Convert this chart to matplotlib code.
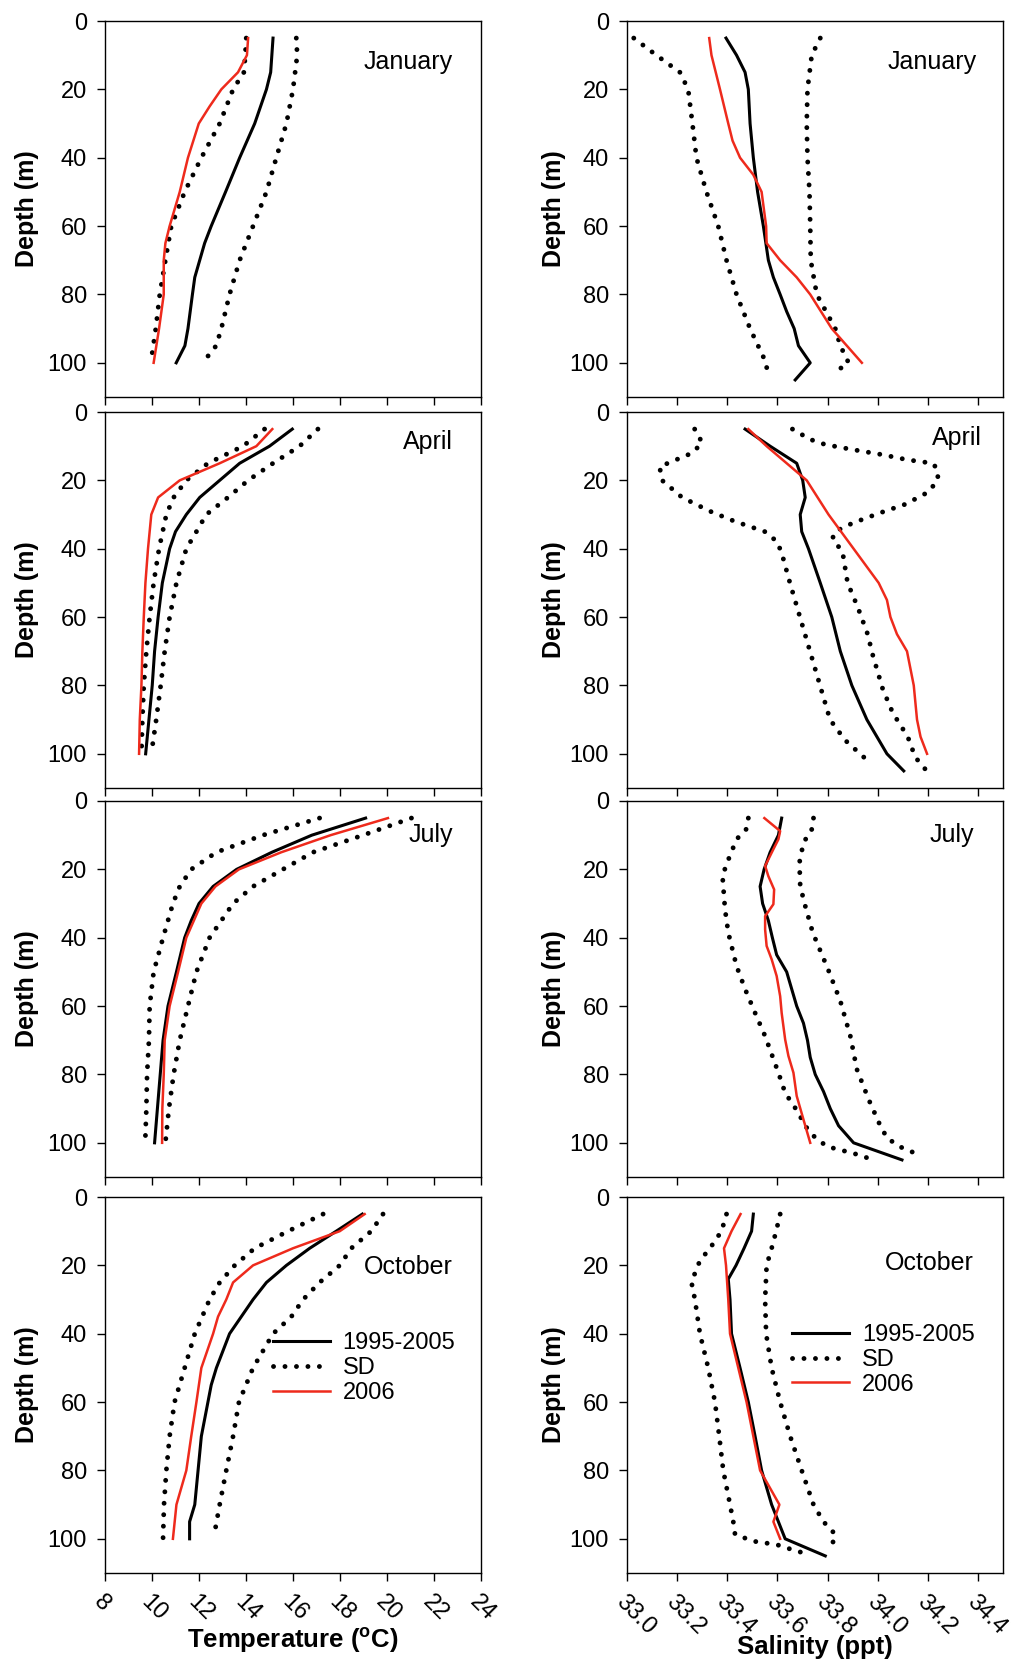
import matplotlib
matplotlib.use("Agg")
import matplotlib.pyplot as plt

plt.rcParams['font.family'] = ['Liberation Sans', 'DejaVu Sans']
plt.rcParams['mathtext.fontset'] = 'custom'
plt.rcParams['mathtext.rm'] = 'Liberation Sans'
plt.rcParams['mathtext.bf'] = 'Liberation Sans:bold'

MONTHS = ["January", "April", "July", "October"]
SERIES = ["1995-2005", "SD", "2006"]
TEMP_TICKS = [8, 10, 12, 14, 16, 18, 20, 22, 24]
SAL_TICKS = [33.0, 33.2, 33.4, 33.6, 33.8, 34.0, 34.2, 34.4]
DEPTH_TICKS = [0, 20, 40, 60, 80, 100]

# ---- temperature, January
T_JAN_MEAN_D = [5, 10, 15, 20, 30, 40, 50, 60, 65, 70, 75, 80, 90, 95, 100]
T_JAN_MEAN = [15.15, 15.10, 15.05, 14.87, 14.37, 13.73, 13.13, 12.52, 12.24, 12.03, 11.82, 11.72, 11.53, 11.40, 11.03]
T_JAN_2006_D = [5, 10, 15, 20, 25, 30, 40, 50, 60, 65, 70, 80, 90, 100]
T_JAN_2006 = [14.09, 14.04, 13.66, 12.95, 12.45, 11.99, 11.53, 11.18, 10.75, 10.57, 10.50, 10.50, 10.30, 10.07]
T_JAN_LO_D = [5, 10, 15, 20, 30, 40, 50, 60, 70, 80, 90, 99]
T_JAN_LO = [14.01, 13.97, 13.91, 13.45, 12.88, 12.10, 11.39, 10.82, 10.57, 10.33, 10.16, 9.97]
T_JAN_HI_D = [5, 10, 20, 30, 40, 50, 60, 70, 80, 90, 95, 99]
T_JAN_HI = [16.14, 16.18, 16.00, 15.72, 15.29, 14.87, 14.30, 13.73, 13.30, 12.95, 12.73, 12.27]

# ---- temperature, April
T_APR_MEAN_D = [5, 10, 15, 20, 25, 30, 35, 40, 50, 60, 70, 80, 90, 100]
T_APR_MEAN = [15.97, 15.00, 13.73, 12.88, 12.03, 11.46, 11.00, 10.75, 10.44, 10.26, 10.11, 10.01, 9.87, 9.73]
T_APR_2006_D = [5, 10, 15, 20, 25, 30, 40, 50, 60, 70, 80, 90, 100]
T_APR_2006 = [15.12, 14.44, 12.88, 11.18, 10.26, 9.97, 9.83, 9.72, 9.65, 9.59, 9.55, 9.48, 9.45]
T_APR_LO_D = [5, 10, 15, 20, 25, 30, 40, 50, 60, 70, 80, 90, 100]
T_APR_LO = [14.79, 13.87, 12.38, 11.46, 10.92, 10.61, 10.30, 10.07, 9.90, 9.76, 9.65, 9.59, 9.55]
T_APR_HI_D = [5, 10, 15, 20, 25, 30, 35, 40, 50, 60, 70, 80, 90, 100]
T_APR_HI = [17.06, 16.28, 15.15, 14.09, 13.23, 12.31, 11.89, 11.46, 11.04, 10.75, 10.54, 10.37, 10.18, 9.97]

# ---- temperature, July
T_JUL_MEAN_D = [5, 10, 15, 20, 25, 30, 35, 40, 50, 60, 70, 80, 90, 100]
T_JUL_MEAN = [19.09, 16.80, 15.10, 13.60, 12.60, 12.00, 11.67, 11.39, 11.04, 10.68, 10.47, 10.35, 10.23, 10.11]
T_JUL_2006_D = [5, 10, 15, 20, 25, 30, 40, 50, 60, 70, 80, 90, 100]
T_JUL_2006 = [20.04, 17.60, 15.50, 13.70, 12.70, 12.10, 11.46, 11.11, 10.75, 10.54, 10.50, 10.44, 10.43]
T_JUL_LO_D = [5, 10, 15, 20, 25, 30, 40, 50, 60, 70, 80, 90, 98]
T_JUL_LO = [17.13, 14.72, 12.74, 11.67, 11.18, 10.89, 10.47, 10.07, 9.90, 9.87, 9.79, 9.76, 9.72]
T_JUL_HI_D = [5, 10, 15, 20, 25, 30, 40, 50, 60, 70, 80, 90, 100]
T_JUL_HI = [21.04, 18.98, 16.85, 15.57, 14.30, 13.45, 12.45, 11.89, 11.53, 11.18, 10.92, 10.72, 10.57]

# ---- temperature, October
T_OCT_MEAN_D = [5, 10, 15, 20, 25, 30, 35, 40, 50, 55, 60, 70, 80, 90, 95, 100]
T_OCT_MEAN = [18.95, 17.84, 16.71, 15.72, 14.87, 14.30, 13.80, 13.30, 12.74, 12.52, 12.38, 12.10, 11.96, 11.82, 11.60, 11.60]
T_OCT_2006_D = [5, 10, 15, 20, 25, 30, 35, 40, 50, 60, 70, 80, 90, 100]
T_OCT_2006 = [19.05, 17.99, 16.00, 14.30, 13.45, 13.16, 12.81, 12.60, 12.10, 11.89, 11.67, 11.46, 11.04, 10.89]
T_OCT_LO_D = [5, 10, 15, 20, 25, 30, 40, 50, 60, 70, 80, 90, 100]
T_OCT_LO = [17.28, 15.79, 14.37, 13.52, 12.88, 12.45, 11.82, 11.39, 10.96, 10.75, 10.61, 10.51, 10.47]
T_OCT_HI_D = [5, 10, 15, 20, 25, 30, 35, 40, 50, 60, 70, 80, 90, 98]
T_OCT_HI = [19.83, 19.33, 18.48, 17.99, 17.13, 16.43, 15.93, 15.15, 14.30, 13.70, 13.45, 13.16, 12.88, 12.67]

# ---- salinity, January
S_JAN_MEAN_D = [5, 10, 15, 20, 30, 40, 50, 60, 70, 75, 80, 85, 90, 95, 100, 105]
S_JAN_MEAN = [33.395, 33.437, 33.471, 33.484, 33.491, 33.504, 33.521, 33.544, 33.564, 33.584, 33.611, 33.637, 33.667, 33.684, 33.731, 33.671]
S_JAN_2006_D = [5, 10, 20, 30, 35, 40, 45, 50, 60, 65, 70, 75, 80, 90, 100]
S_JAN_2006 = [33.328, 33.337, 33.371, 33.404, 33.421, 33.451, 33.504, 33.537, 33.555, 33.557, 33.611, 33.677, 33.731, 33.817, 33.937]
S_JAN_LO_D = [5, 10, 15, 20, 30, 40, 50, 60, 70, 80, 90, 100, 103]
S_JAN_LO = [33.027, 33.117, 33.211, 33.244, 33.261, 33.277, 33.317, 33.364, 33.397, 33.437, 33.491, 33.555, 33.560]
S_JAN_HI_D = [5, 10, 20, 30, 40, 50, 60, 70, 80, 90, 95, 100, 103]
S_JAN_HI = [33.771, 33.737, 33.720, 33.717, 33.720, 33.728, 33.731, 33.733, 33.757, 33.831, 33.851, 33.884, 33.824]

# ---- salinity, April
S_APR_MEAN_D = [5, 10, 15, 20, 25, 30, 35, 40, 50, 60, 70, 80, 90, 100, 105]
S_APR_MEAN = [33.471, 33.571, 33.677, 33.701, 33.711, 33.691, 33.697, 33.724, 33.771, 33.817, 33.851, 33.897, 33.957, 34.037, 34.104]
S_APR_2006_D = [5, 10, 15, 20, 30, 40, 50, 55, 60, 65, 70, 80, 90, 95, 100]
S_APR_2006 = [33.484, 33.557, 33.637, 33.717, 33.804, 33.904, 34.004, 34.037, 34.051, 34.077, 34.117, 34.144, 34.157, 34.171, 34.197]
S_APR_LO_D = [5, 9, 12, 16, 20, 25, 29, 32, 35, 38, 42, 50, 60, 70, 80, 90, 96, 102]
S_APR_LO = [33.27, 33.30, 33.26, 33.13, 33.14, 33.22, 33.33, 33.43, 33.55, 33.60, 33.62, 33.65, 33.69, 33.73, 33.77, 33.81, 33.87, 33.96]
S_APR_HI_D = [5, 8, 9.5, 11, 12.5, 14, 15, 17, 20, 23.5, 27, 29.5, 32.5, 35, 37, 41, 50, 57, 65, 71, 81, 88, 95, 101, 104.5]
S_APR_HI = [33.66, 33.73, 33.79, 33.90, 34.02, 34.12, 34.22, 34.24, 34.24, 34.20, 34.11, 34.01, 33.90, 33.83, 33.82, 33.86, 33.88, 33.92, 33.96, 33.98, 34.02, 34.06, 34.12, 34.15, 34.19]

# ---- salinity, July
S_JUL_MEAN_D = [5, 10, 15, 20, 25, 30, 35, 40, 45, 50, 55, 60, 65, 70, 75, 80, 85, 90, 95, 100, 105]
S_JUL_MEAN = [33.617, 33.604, 33.571, 33.547, 33.531, 33.541, 33.564, 33.580, 33.597, 33.637, 33.657, 33.677, 33.704, 33.720, 33.731, 33.751, 33.784, 33.811, 33.844, 33.904, 34.097]
S_JUL_2006_D = [5, 8.8, 11.2, 14.1, 19, 22, 25.9, 30.2, 33.7, 37.6, 42.4, 46.3, 51.2, 57.1, 62, 69.8, 74.6, 79.5, 86.3, 93.2, 100]
S_JUL_2006 = [33.548, 33.611, 33.604, 33.584, 33.551, 33.564, 33.587, 33.584, 33.551, 33.551, 33.557, 33.577, 33.597, 33.611, 33.617, 33.631, 33.644, 33.664, 33.677, 33.704, 33.731]
S_JUL_LO_D = [5, 8.3, 11.2, 18.5, 22, 31.7, 38.5, 48.3, 55, 62, 68.8, 79.5, 85.4, 89.8, 95.6, 98.5, 101, 102, 102.9, 103.9, 104.9]
S_JUL_LO = [33.484, 33.475, 33.437, 33.397, 33.381, 33.391, 33.404, 33.437, 33.471, 33.511, 33.551, 33.604, 33.631, 33.671, 33.717, 33.751, 33.797, 33.844, 33.897, 33.937, 33.981]
S_JUL_HI_D = [5, 8.3, 12.2, 18, 24.9, 30.7, 38.5, 49.6, 58.5, 68.8, 78.5, 87.3, 95.1, 98.5, 101, 103.9]
S_JUL_HI = [33.744, 33.737, 33.704, 33.688, 33.691, 33.711, 33.741, 33.804, 33.851, 33.891, 33.917, 33.964, 34.011, 34.037, 34.084, 34.177]

# ---- salinity, October
S_OCT_MEAN_D = [5, 10, 15, 20, 24, 30, 40, 50, 60, 70, 80, 90, 100, 105]
S_OCT_MEAN = [33.504, 33.497, 33.467, 33.435, 33.404, 33.411, 33.417, 33.451, 33.484, 33.511, 33.537, 33.577, 33.631, 33.791]
S_OCT_2006_D = [5, 10, 15, 20, 30, 40, 50, 60, 70, 80, 90, 95, 100]
S_OCT_2006 = [33.453, 33.417, 33.387, 33.395, 33.404, 33.411, 33.444, 33.477, 33.504, 33.531, 33.608, 33.584, 33.611]
S_OCT_LO_D = [5, 10, 15, 18.6, 24.9, 30, 40, 50, 60, 70, 80, 90, 95, 98.7, 100.7, 101.7, 103.6, 104.6]
S_OCT_LO = [33.397, 33.377, 33.331, 33.291, 33.257, 33.271, 33.291, 33.324, 33.351, 33.368, 33.384, 33.411, 33.424, 33.431, 33.504, 33.597, 33.677, 33.731]
S_OCT_HI_D = [5, 10, 15, 20, 30, 40, 50, 60, 70, 80, 90, 95, 98.7, 102.1]
S_OCT_HI = [33.611, 33.595, 33.577, 33.557, 33.551, 33.555, 33.577, 33.611, 33.651, 33.697, 33.744, 33.784, 33.831, 33.817]

temp_panels = [
    (T_JAN_MEAN_D, T_JAN_MEAN, T_JAN_2006_D, T_JAN_2006, T_JAN_LO_D, T_JAN_LO, T_JAN_HI_D, T_JAN_HI),
    (T_APR_MEAN_D, T_APR_MEAN, T_APR_2006_D, T_APR_2006, T_APR_LO_D, T_APR_LO, T_APR_HI_D, T_APR_HI),
    (T_JUL_MEAN_D, T_JUL_MEAN, T_JUL_2006_D, T_JUL_2006, T_JUL_LO_D, T_JUL_LO, T_JUL_HI_D, T_JUL_HI),
    (T_OCT_MEAN_D, T_OCT_MEAN, T_OCT_2006_D, T_OCT_2006, T_OCT_LO_D, T_OCT_LO, T_OCT_HI_D, T_OCT_HI),
]
sal_panels = [
    (S_JAN_MEAN_D, S_JAN_MEAN, S_JAN_2006_D, S_JAN_2006, S_JAN_LO_D, S_JAN_LO, S_JAN_HI_D, S_JAN_HI),
    (S_APR_MEAN_D, S_APR_MEAN, S_APR_2006_D, S_APR_2006, S_APR_LO_D, S_APR_LO, S_APR_HI_D, S_APR_HI),
    (S_JUL_MEAN_D, S_JUL_MEAN, S_JUL_2006_D, S_JUL_2006, S_JUL_LO_D, S_JUL_LO, S_JUL_HI_D, S_JUL_HI),
    (S_OCT_MEAN_D, S_OCT_MEAN, S_OCT_2006_D, S_OCT_2006, S_OCT_LO_D, S_OCT_LO, S_OCT_HI_D, S_OCT_HI),
]

RED = '#ee2a1c'
DOT = (0, (0.01, 2.35))

# month label spots (axes fraction) per column
month_pos_t = [(0.925, 0.89), (0.925, 0.92), (0.925, 0.91), (0.925, 0.814)]
month_pos_s = [(0.93, 0.89), (0.944, 0.93), (0.923, 0.91), (0.923, 0.825)]
row_tops = [21, 412, 801, 1197]

fig = plt.figure(figsize=(10.13, 16.70), dpi=100)
W, H = 1013.0, 1670.0
aw, ah = 376 / W, 376 / H

for col, (panels, ticks, xlim, mpos, xl, ylab_x, xlab_y, leg_x, leg_y) in enumerate([
        (temp_panels, TEMP_TICKS, (8, 24), month_pos_t,
         r'Temperature ($^{\mathbf{o}}$C)', -0.175, -0.14, 0.447, 0.64),
        (sal_panels, SAL_TICKS, (33.0, 34.5), month_pos_s,
         'Salinity (ppt)', -0.162, -0.165, 0.44, 0.662)]):
    x0 = (105 if col == 0 else 627) / W
    for row in range(4):
        y0 = 1 - (row_tops[row] + 376) / H
        ax = fig.add_axes([x0, y0, aw, ah])
        md, mv, rd, rv, ld, lv, hd, hv = panels[row]
        ax.plot(lv, ld, color='black', linestyle=DOT, lw=3.5,
                dash_capstyle='round', label=SERIES[1])
        ax.plot(hv, hd, color='black', linestyle=DOT, lw=3.5,
                dash_capstyle='round')
        ax.plot(mv, md, color='black', lw=2.2, label=SERIES[0])
        ax.plot(rv, rd, color=RED, lw=1.8, label=SERIES[2])

        ax.set_xlim(*xlim)
        ax.set_ylim(110, 0)
        ax.set_xticks(ticks)
        ax.set_yticks(DEPTH_TICKS)
        ax.tick_params(direction='out', length=6, width=1, labelsize=17, pad=7)
        for s in ax.spines.values():
            s.set_linewidth(1.0)
        ax.set_ylabel('Depth (m)', fontsize=18, fontweight='bold')
        ax.yaxis.set_label_coords(ylab_x, 0.5)
        ax.text(mpos[row][0], mpos[row][1], MONTHS[row], transform=ax.transAxes,
                ha='right', va='center', fontsize=18)

        if row == 3:
            if col == 1:
                ax.set_xticklabels([f'{t:.1f}' for t in ticks])
            plt.setp(ax.get_xticklabels(), rotation=-45, ha='left',
                     va='top', rotation_mode='anchor')
            ax.set_xlabel(xl, fontsize=18.5, fontweight='bold')
            ax.xaxis.set_label_coords(0.5, xlab_y)
            h, l = ax.get_legend_handles_labels()
            order = [l.index(s) for s in SERIES]
            ax.legend([h[i] for i in order], [l[i] for i in order],
                      loc='upper left', bbox_to_anchor=(leg_x, leg_y),
                      frameon=False, fontsize=17, handlelength=2.4,
                      handletextpad=0.55, labelspacing=0.12, borderpad=0,
                      borderaxespad=0)
        else:
            ax.set_xticklabels([])

fig.savefig('out.png', dpi=100)
